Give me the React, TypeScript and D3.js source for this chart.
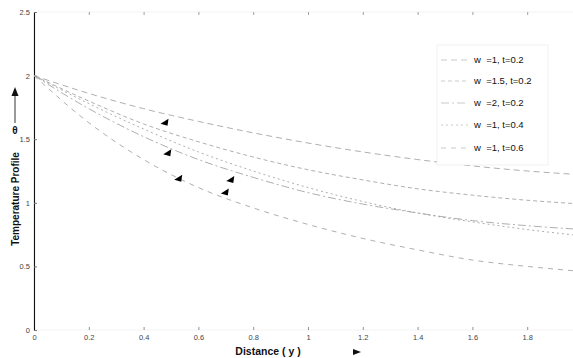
import React, { useEffect, useRef } from "react";
import * as d3 from "d3";

// distance y
const distance = [0, 0.2, 0.4, 0.6, 0.8, 1.0, 1.2, 1.4, 1.6, 1.8, 2.0];

// temperature profile theta for each case
const w1t02 = [2.0, 1.86, 1.74, 1.64, 1.55, 1.47, 1.4, 1.34, 1.29, 1.25, 1.22];
const w15t02 = [2.0, 1.8, 1.62, 1.48, 1.36, 1.26, 1.18, 1.11, 1.06, 1.02, 0.99];
const w2t02 = [2.0, 1.74, 1.52, 1.34, 1.2, 1.08, 0.99, 0.92, 0.86, 0.82, 0.79];
const w1t04 = [2.0, 1.78, 1.58, 1.4, 1.25, 1.12, 1.01, 0.92, 0.85, 0.79, 0.74];
const w1t06 = [2.0, 1.63, 1.34, 1.12, 0.96, 0.83, 0.72, 0.63, 0.55, 0.5, 0.46];

const seriesNames = ["w\u00a0\u00a0=1, t=0.2", "w\u00a0\u00a0=1.5, t=0.2", "w\u00a0\u00a0=2, t=0.2", "w\u00a0\u00a0=1, t=0.4", "w\u00a0\u00a0=1, t=0.6"];
const seriesValues = [w1t02, w15t02, w2t02, w1t04, w1t06];

// arrow heads placed on the curves (distance, theta)
const arrowX = [0.48, 0.49, 0.53, 0.72, 0.7];
const arrowY = [1.63, 1.39, 1.19, 1.18, 1.08];

const xTicks = [0, 0.2, 0.4, 0.6, 0.8, 1, 1.2, 1.4, 1.6, 1.8];
const yTicks = [0, 0.5, 1, 1.5, 2, 2.5];

const dashes = ["6,4", "4,3", "8,3,2,3", "2,3", "5,5"];

function Chart() {
  const ref = useRef<SVGSVGElement>(null);

  useEffect(() => {
    const svg = d3.select(ref.current);
    svg.selectAll("*").remove();

    const x = d3.scaleLinear().domain([0, 2]).range([34, 582]);
    const y = d3.scaleLinear().domain([0, 2.5]).range([330, 12]);

    // faint frame
    svg.append("rect")
      .attr("x", x(0)).attr("y", y(2.5))
      .attr("width", x(2) - x(0)).attr("height", y(0) - y(2.5))
      .attr("fill", "none").attr("stroke", "#ececec").attr("stroke-width", 0.6);

    // bottom ticks + labels
    const bottom = svg.append("g").attr("transform", `translate(0,${y(0)})`)
      .call(d3.axisBottom(x).tickValues(xTicks).tickSize(-3).tickPadding(5)
        .tickFormat(d => d3.format("")(d as number)));
    bottom.select(".domain").remove();
    bottom.selectAll("line").attr("stroke", "#777").attr("stroke-width", 0.8);
    bottom.selectAll("text").attr("font-family", "Arial, Liberation Sans, sans-serif")
      .attr("font-size", 7.5).attr("fill", "#444");

    // top ticks
    const top = svg.append("g").attr("transform", `translate(0,${y(2.5)})`)
      .call(d3.axisTop(x).tickValues(xTicks.slice(1)).tickSize(-3).tickFormat(() => ""));
    top.select(".domain").remove();
    top.selectAll("line").attr("stroke", "#888").attr("stroke-width", 0.8);

    // left axis
    const left = svg.append("g").attr("transform", `translate(${x(0)},0)`)
      .call(d3.axisLeft(y).tickValues(yTicks).tickSize(-3).tickPadding(4)
        .tickFormat(d => d3.format("")(d as number)));
    left.select(".domain").attr("stroke", "#111").attr("stroke-width", 1.1);
    left.selectAll("line").attr("stroke", "#777");
    left.selectAll("text").attr("font-family", "Arial, Liberation Sans, sans-serif")
      .attr("font-size", 7.5).attr("fill", "#444");

    // curves
    const line = d3.line<number>()
      .x((_, i) => x(distance[i]))
      .y(d => y(d))
      .curve(d3.curveMonotoneX);

    svg.selectAll(".curve").data(seriesValues).join("path").attr("class", "curve")
      .attr("d", d => line(d))
      .attr("fill", "none")
      .attr("stroke", "#9a9a9a")
      .attr("stroke-width", 0.8)
      .attr("stroke-dasharray", (_, i) => dashes[i]);

    // arrow heads
    svg.selectAll(".head").data(arrowX).join("path").attr("class", "head")
      .attr("d", "M-5,1 L3,-4 L2,3 Z")
      .attr("transform", (d, i) => `translate(${x(d)},${y(arrowY[i])})`)
      .attr("fill", "#000");

    // legend
    const lg = svg.append("g");
    lg.append("rect").attr("x", 437).attr("y", 45).attr("width", 111).attr("height", 120)
      .attr("fill", "white").attr("stroke", "#e6e6e6").attr("stroke-width", 0.6);
    const rowY = [63, 84, 106, 128, 151];
    seriesNames.forEach((name, i) => {
      lg.append("line").attr("x1", 441).attr("x2", 468).attr("y1", rowY[i] - 3).attr("y2", rowY[i] - 3)
        .attr("stroke", "#bdbdbd").attr("stroke-width", 0.8).attr("stroke-dasharray", dashes[i]);
      lg.append("text").attr("x", 474).attr("y", rowY[i])
        .attr("font-family", "Arial, Liberation Sans, sans-serif").attr("font-size", 9.5)
        .attr("fill", "#111").text(name);
    });

    // axis titles
    svg.append("text").attr("x", 268).attr("y", 355).attr("text-anchor", "middle")
      .attr("font-family", "Arial, Liberation Sans, sans-serif").attr("font-size", 10.5)
      .attr("font-weight", "bold").attr("fill", "#111").text("Distance ( y )");
    svg.append("path").attr("d", "M353,349 L361,352 L353,355 Z").attr("fill", "#111");

    svg.append("text").attr("transform", "translate(19,199) rotate(-90)").attr("text-anchor", "middle")
      .attr("font-family", "Arial, Liberation Sans, sans-serif").attr("font-size", 10)
      .attr("font-weight", "bold").attr("fill", "#111").text("Temperature Profile");
    svg.append("text").attr("x", 15).attr("y", 134).attr("text-anchor", "middle")
      .attr("font-family", "Arial, Liberation Sans, sans-serif").attr("font-size", 10)
      .attr("font-weight", "bold").attr("fill", "#111").text("θ");
    svg.append("line").attr("x1", 15).attr("x2", 15).attr("y1", 123).attr("y2", 94)
      .attr("stroke", "#555").attr("stroke-width", 1.2);
    svg.append("path").attr("d", "M11.5,96 L15,87 L18.5,96 Z").attr("fill", "#111");
  }, []);

  return <svg ref={ref} width={573} height={358} style={{ display: "block", background: "white" }} />;
}

export default function App() {
  return (
    <div style={{ position: "fixed", left: 0, top: 0 }}>
      <Chart />
    </div>
  );
}
